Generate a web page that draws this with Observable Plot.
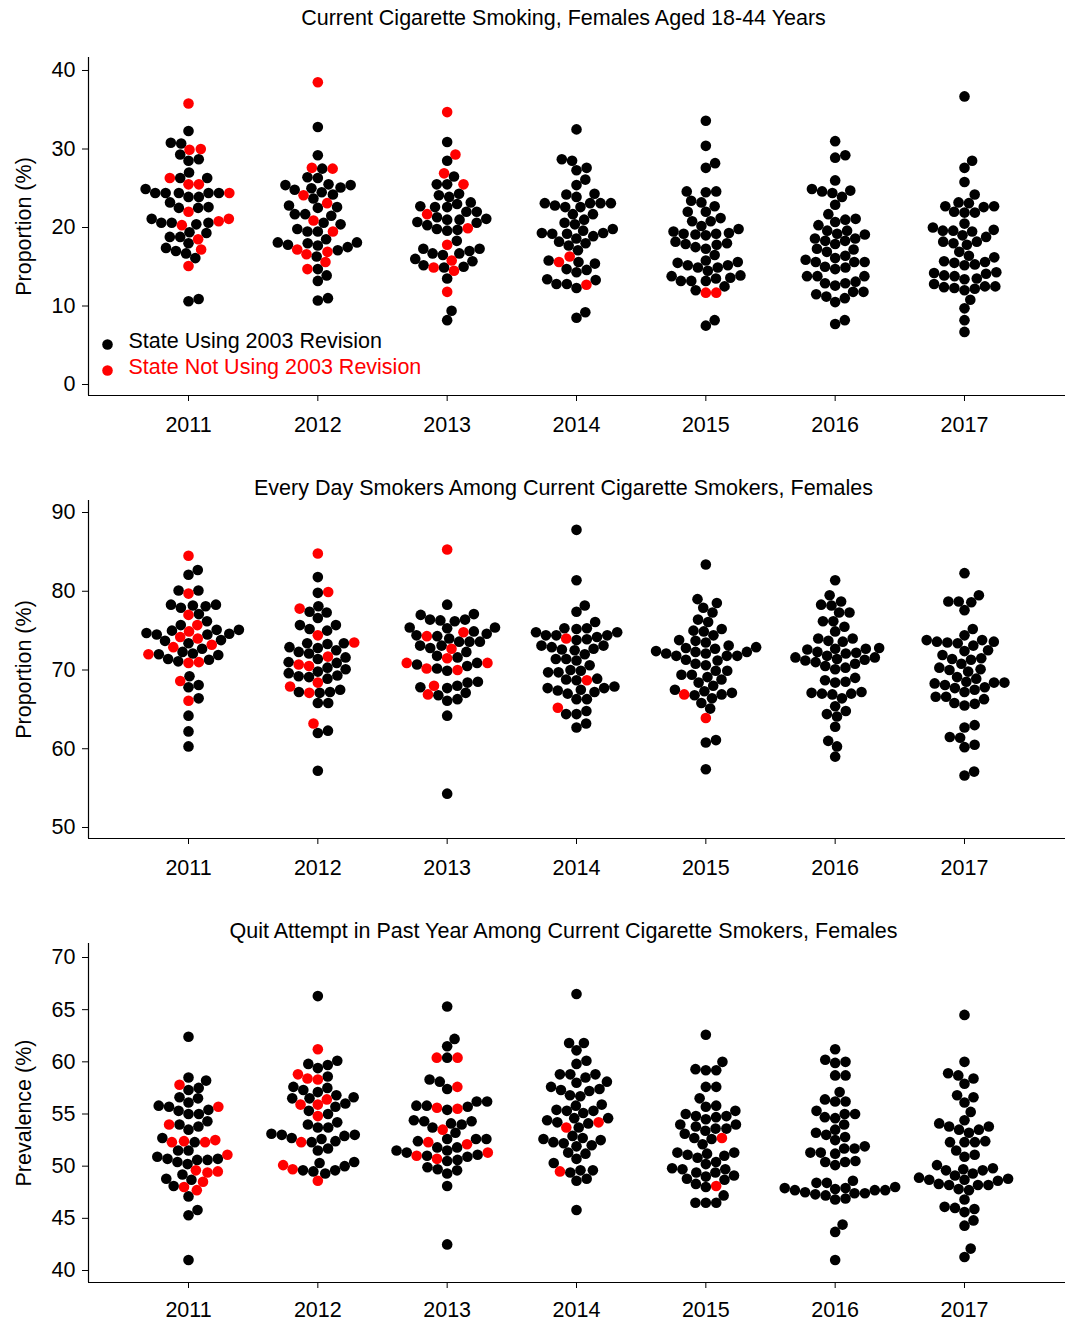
<!DOCTYPE html>
<html><head><meta charset="utf-8">
<script src="https://cdn.jsdelivr.net/npm/d3@7"></script>
<script src="https://cdn.jsdelivr.net/npm/@observablehq/plot@0.6"></script>
<style>
body{margin:0;background:#fff;font-family:"Liberation Sans",Arial,Helvetica,sans-serif;}
#chart svg{display:block;overflow:visible}
</style></head><body><div id="chart"></div>
<script>
const years = [2011, 2012, 2013, 2014, 2015, 2016, 2017];

// Current cigarette smoking, females 18-44 (%), by year
const smokingUsing = [
  [32.3,30.8,30.7,29.3,28.5,28.7,27.0,26.3,26.3,24.9,24.4,24.4,24.4,24.4,24.4,23.9,23.9,23.2,22.6,22.5,22.5,21.1,20.6,20.6,20.4,20.6,19.4,19.3,18.8,18.8,18.0,17.4,17.0,16.7,16.1,10.6,10.9],
  [32.8,29.2,27.5,26.3,26.4,25.4,25.5,25.0,24.8,25.1,25.4,24.5,24.2,23.7,22.6,22.8,22.5,21.5,21.7,21.7,20.6,20.4,19.8,19.5,19.5,18.5,18.1,18.1,17.8,18.0,17.5,17.1,17.7,16.3,13.9,14.7,13.2,10.7,11.0],
  [30.9,28.5,26.5,25.5,25.5,24.3,23.9,24.1,23.2,23.0,22.6,22.6,22.7,22.0,22.0,21.3,20.7,20.3,21.0,21.0,21.1,20.6,19.8,19.6,19.7,18.3,17.3,16.7,16.5,16.7,17.0,17.3,16.0,15.2,14.9,15.0,15.7,13.5,9.4,8.2],
  [32.5,28.5,28.7,27.6,27.3,26.1,25.4,24.3,24.2,23.9,23.1,23.1,22.6,22.6,22.8,23.1,23.1,21.7,21.7,20.4,21.0,20.6,19.3,19.8,18.9,19.2,19.2,19.6,19.3,18.0,17.7,18.2,18.6,17.1,15.8,15.6,14.7,14.3,14.6,15.4,13.4,12.8,12.8,12.3,13.3,8.5,9.2],
  [33.6,30.4,27.6,28.2,24.6,24.5,24.6,23.4,23.2,22.7,22.0,22.0,21.2,20.8,20.8,20.2,19.5,19.2,19.2,19.0,19.1,19.3,19.8,18.2,17.9,17.8,17.3,17.5,18.0,16.5,15.8,15.5,15.2,14.9,14.5,14.9,15.2,15.6,13.8,13.5,13.2,13.2,13.2,13.6,13.9,12.0,12.5,7.5,8.2],
  [31.0,28.9,29.2,26.0,24.9,24.6,24.4,23.9,24.7,22.9,21.7,21.0,20.7,21.1,20.3,19.6,19.2,19.6,18.6,17.9,18.3,18.3,18.6,19.1,16.9,17.3,17.2,16.4,15.6,15.6,16.1,15.9,15.0,15.6,14.7,14.9,13.8,12.9,12.9,13.8,12.6,13.1,13.8,11.8,11.5,11.2,11.0,11.8,10.5,7.7,8.2],
  [36.7,28.5,27.6,25.8,24.2,23.2,23.1,22.7,22.0,21.9,21.9,22.6,22.7,20.5,19.7,19.6,19.5,19.6,20.0,18.8,19.0,18.2,18.2,17.8,18.0,16.9,16.4,16.2,15.6,15.5,15.2,15.3,15.7,14.1,13.9,13.5,13.8,14.2,14.3,13.4,12.5,12.4,12.3,12.0,12.2,12.5,12.8,10.8,9.7,8.2,6.7]
];
const smokingNot = [
  [35.8,29.9,30.0,26.3,25.5,25.5,24.4,22.0,21.1,20.3,20.8,18.5,17.2,15.1],
  [38.5,27.5,27.6,24.1,23.1,20.9,19.5,16.6,16.9,17.2,15.6,14.7],
  [34.7,29.3,26.9,25.5,21.7,19.9,17.8,14.9,15.8,14.5,11.8],
  [16.3,15.6,12.7],
  [11.7,11.7],
  [],
  []
];

// Every day smokers among current cigarette smokers, females (%)
const dailyUsing = [
  [82.1,82.7,80.1,80.1,78.3,78.2,78.1,77.9,78.3,77.1,76.2,75.7,74.7,74.5,75.0,74.6,75.1,74.5,75.1,73.7,73.4,73.8,72.7,72.3,72.1,71.4,71.1,71.3,71.9,72.0,69.2,67.8,68.1,66.4,64.2,62.2,60.3],
  [81.8,79.8,78.1,77.3,77.4,76.6,75.7,75.2,75.0,75.7,73.4,73.4,72.9,73.3,72.8,72.5,72.3,72.1,71.6,71.4,71.0,70.9,70.1,69.3,69.1,69.8,70.3,68.9,69.2,69.6,67.2,67.1,67.2,67.5,65.8,65.8,62.0,62.3,57.2],
  [78.3,77.1,77.0,76.4,76.2,76.4,76.3,75.4,75.4,75.3,74.9,74.4,74.3,74.6,74.0,73.6,73.6,73.6,73.1,72.8,73.1,72.3,71.8,71.6,70.9,70.2,69.9,70.5,70.7,68.5,68.4,68.0,67.7,67.8,67.1,66.8,66.1,66.3,64.2,54.3],
  [87.8,81.4,78.2,77.4,76.1,75.3,75.2,75.3,74.8,74.4,74.4,73.9,73.8,74.2,74.4,74.8,72.9,72.5,72.6,73.1,72.7,73.1,72.0,71.4,71.2,71.4,70.6,70.0,69.9,69.7,69.7,68.7,68.8,68.9,67.7,67.5,67.0,67.4,67.2,67.7,67.9,66.3,66.3,64.4,64.4,64.8,62.7,63.2],
  [83.4,79.0,78.5,77.9,77.3,76.1,76.4,75.2,74.9,75.0,74.4,73.8,73.7,73.5,72.8,72.1,73.1,71.8,72.7,72.4,72.1,72.3,72.9,71.8,71.8,72.3,71.3,71.2,70.8,70.6,69.9,69.9,69.4,69.4,69.1,68.8,68.4,68.0,67.5,66.8,67.3,66.4,66.9,67.1,65.8,65.1,60.8,61.1,57.4],
  [81.4,79.5,78.7,78.2,78.3,77.3,77.3,76.2,76.2,75.5,74.9,74.0,74.0,73.6,73.7,72.7,72.6,72.7,72.8,72.2,72.1,72.3,71.6,71.4,71.6,71.8,71.3,71.2,71.0,70.5,70.1,70.3,70.8,68.7,68.4,68.5,69.0,67.1,67.0,66.9,66.4,67.0,67.2,65.4,64.4,64.1,64.8,62.8,61.0,60.3,59.0],
  [82.3,78.7,78.7,79.5,78.6,77.6,75.2,74.4,73.8,73.6,73.5,73.4,73.1,73.8,73.6,72.4,72.5,71.9,71.4,70.8,71.3,71.5,70.3,70.1,70.0,69.8,69.1,68.9,68.5,68.3,68.1,67.7,67.2,67.5,67.8,68.4,68.4,66.6,66.6,65.7,65.5,65.8,66.3,62.7,63.0,61.5,61.4,60.2,60.5,56.6,57.1]
];
const dailyNot = [
  [84.5,79.7,77.0,75.7,74.9,74.0,74.2,72.9,73.2,72.0,70.9,71.0,68.6,66.1],
  [84.8,79.9,77.8,74.4,73.5,71.7,70.7,70.5,68.4,67.9,67.1,63.2],
  [85.3,74.8,74.3,72.7,71.5,70.9,70.2,70.0,70.9,68.0,66.9],
  [74.0,68.7,65.2],
  [66.9,63.9],
  [],
  []
];

// Quit attempt in past year among current cigarette smokers, females (%)
const quitUsing = [
  [62.4,58.2,58.5,57.3,57.5,56.6,56.5,56.1,55.8,55.3,55.0,55.0,55.4,55.7,54.0,53.5,53.8,54.3,52.7,52.3,51.5,51.5,50.9,50.7,50.6,50.2,50.4,50.6,50.7,49.2,48.7,48.8,48.1,47.1,45.3,45.8,41.0],
  [66.3,60.1,59.8,59.4,59.7,58.6,57.3,57.6,57.1,57.5,56.8,56.5,56.0,55.7,56.5,56.6,55.3,55.0,54.0,53.7,53.7,54.2,53.1,53.0,52.7,52.3,52.6,52.4,52.9,53.0,51.5,51.7,50.3,49.6,49.5,50.4,49.3,49.6,50.0],
  [65.3,62.2,61.5,60.4,58.1,58.3,57.4,55.8,55.7,55.4,55.8,56.2,56.2,54.4,54.0,53.7,54.3,54.1,54.3,53.2,52.6,52.4,52.6,52.6,51.8,51.8,51.5,51.3,51.0,50.9,50.5,50.6,51.1,51.5,49.9,49.7,49.6,49.3,48.1,42.5],
  [66.5,61.8,61.8,61.1,59.8,60.1,58.8,58.8,58.5,58.8,58.1,58.0,57.6,57.4,57.2,56.7,56.8,57.3,55.9,55.8,55.3,55.1,55.3,55.4,54.6,54.2,54.1,54.6,53.7,54.4,52.9,52.5,52.0,52.7,51.9,52.2,52.3,52.6,51.2,50.7,51.3,50.3,49.6,49.4,49.6,48.6,48.8,45.8],
  [62.6,60.0,59.3,59.2,59.2,57.6,57.6,56.5,55.8,55.7,55.3,55.0,54.8,54.5,54.7,54.8,54.0,53.8,53.4,53.6,53.6,54.0,53.1,52.6,52.7,52.1,51.3,51.0,50.8,51.2,51.1,51.3,50.4,50.2,49.8,49.7,49.4,49.4,49.7,48.8,48.3,48.0,48.7,49.0,49.1,47.2,46.5,46.5,46.5],
  [61.2,60.2,59.9,60.0,58.7,58.7,57.1,56.4,56.2,56.2,55.3,54.6,54.7,55.0,55.0,54.0,53.5,53.2,53.0,52.5,52.8,51.7,51.3,51.2,51.3,51.7,51.9,50.5,50.1,50.4,50.4,48.6,48.4,48.4,47.9,47.7,47.5,47.3,47.2,46.8,47.7,47.9,46.9,47.4,47.4,47.7,47.8,48.0,44.4,43.7,41.0],
  [64.5,60.0,58.9,58.7,58.4,57.9,56.8,56.6,56.1,55.2,54.4,54.1,53.8,53.2,53.5,53.5,53.8,52.3,52.3,52.3,52.4,51.5,50.9,51.1,49.7,49.6,49.8,49.1,49.3,49.6,50.1,48.8,48.6,48.2,48.2,48.7,47.8,47.7,48.2,48.3,48.7,48.9,46.8,46.1,46.0,45.6,45.9,44.8,44.3,42.1,41.3]
];
const quitNot = [
  [57.8,55.7,54.0,52.4,52.3,52.3,52.5,51.1,49.6,49.4,49.5,48.5,48.0,47.7],
  [61.2,58.3,58.4,58.8,56.4,55.9,55.9,54.8,52.3,49.7,50.1,48.6],
  [60.4,60.4,57.6,55.6,55.5,53.5,52.1,52.3,51.0,51.3,50.7],
  [53.7,54.2,49.5],
  [52.7,48.1],
  [],
  []
];

const legendLabels = ["State Using 2003 Revision", "State Not Using 2003 Revision"];
const groupColors = ["#000000", "#ff0000"];

const panels = [
  {title: "Current Cigarette Smoking, Females Aged 18-44 Years", yLabel: "Proportion (%)",
   using: smokingUsing, not: smokingNot, yDomain: [-1.401, 41.656], yTicks: [0, 10, 20, 30, 40],
   height: 470, marginTop: 57, marginBottom: 75, tickPadding: 15, legend: true},
  {title: "Every Day Smokers Among Current Cigarette Smokers, Females", yLabel: "Proportion (%)",
   using: dailyUsing, not: dailyNot, yDomain: [48.603, 91.524], yTicks: [50, 60, 70, 80, 90],
   height: 443, marginTop: 30, marginBottom: 75, tickPadding: 15},
  {title: "Quit Attempt in Past Year Among Current Cigarette Smokers, Females", yLabel: "Prevalence (%)",
   using: quitUsing, not: quitNot, yDomain: [38.85, 71.342], yTicks: [40, 45, 50, 55, 60, 65, 70],
   height: 414, marginTop: 30, marginBottom: 45, tickPadding: 13}
];

const W = 1071, ML = 88, MR = 6, FS = 21.5;
const xDomain = [2011 - 100 / 129.33, 2017 + 101 / 129.33];
const pxPerYear = (W - ML - MR) / (xDomain[1] - xDomain[0]);
const R = 5.3, D = 10.4;

function swarmOffsets(vals, k) {
  const idx = d3.range(vals.length).sort((a, b) => vals[a] - vals[b]);
  const out = new Array(vals.length);
  const placed = [];
  for (const i of idx) {
    const y = vals[i] * k;
    const near = placed.filter(p => Math.abs(p.y - y) < D);
    const cands = [0];
    for (const p of near) {
      const dx = Math.sqrt(D * D - (p.y - y) ** 2);
      cands.push(p.x + dx, p.x - dx);
    }
    cands.sort((a, b) => Math.abs(a) - Math.abs(b) || b - a);
    let best = 0;
    for (const c of cands) {
      if (near.every(p => (p.x - c) ** 2 + (p.y - y) ** 2 >= D * D - 1e-6)) { best = c; break; }
    }
    out[i] = best;
    placed.push({x: best, y});
  }
  return out;
}

const root = document.getElementById("chart");
for (const P of panels) {
  const k = (P.height - P.marginBottom - P.marginTop) / (P.yDomain[1] - P.yDomain[0]);
  const rows = [];
  years.forEach((yr, j) => {
    const vals = [...P.using[j], ...P.not[j]];
    const grp = [...P.using[j].map(() => 0), ...P.not[j].map(() => 1)];
    const off = swarmOffsets(vals, k);
    vals.forEach((v, i) => rows.push({year: yr, value: v, group: grp[i], x: yr + off[i] / pxPerYear}));
  });
  rows.sort((a, b) => a.group - b.group);
  const frameCenter = (ML + W - MR) / 2;
  const marks = [
    Plot.ruleY([P.yDomain[0]], {stroke: "black", strokeWidth: 1.2}),
    Plot.ruleX([xDomain[0]], {stroke: "black", strokeWidth: 1.2}),
    Plot.axisY({ticks: P.yTicks, tickSize: 6, tickPadding: 7, label: null, tickFormat: d => String(d)}),
    Plot.axisX({ticks: years, tickSize: 6, tickPadding: P.tickPadding, label: null, tickFormat: d => String(d)}),
    Plot.dot(rows, {x: "x", y: "value", r: R, fill: d => groupColors[d.group], stroke: null}),
    Plot.text([P.title], {frameAnchor: "top", dy: 18 - P.marginTop, dx: 563 - frameCenter, fontSize: FS, lineAnchor: "middle", fill: "black"}),
    Plot.text([P.yLabel], {frameAnchor: "left", dx: 24 - ML, rotate: -90, fontSize: FS, textAnchor: "middle", lineAnchor: "middle", fill: "black"})
  ];
  if (P.legend) {
    legendLabels.forEach((lab, i) => {
      marks.push(Plot.dot([lab], {frameAnchor: "bottom-left", dx: 19, dy: -51 + 26 * i, r: R, fill: groupColors[i], stroke: null}));
      marks.push(Plot.text([lab], {frameAnchor: "bottom-left", dx: 40, dy: -48 + 26 * i, textAnchor: "start", fontSize: FS, fill: groupColors[i]}));
    });
  }
  const svg = Plot.plot({
    width: W, height: P.height,
    marginLeft: ML, marginRight: MR, marginTop: P.marginTop, marginBottom: P.marginBottom,
    style: {fontFamily: "'Liberation Sans', Arial, Helvetica, sans-serif", fontSize: FS + "px", color: "black", background: "white", overflow: "visible"},
    x: {type: "linear", domain: xDomain},
    y: {domain: P.yDomain},
    marks
  });
  root.appendChild(svg);
}
</script></body></html>
